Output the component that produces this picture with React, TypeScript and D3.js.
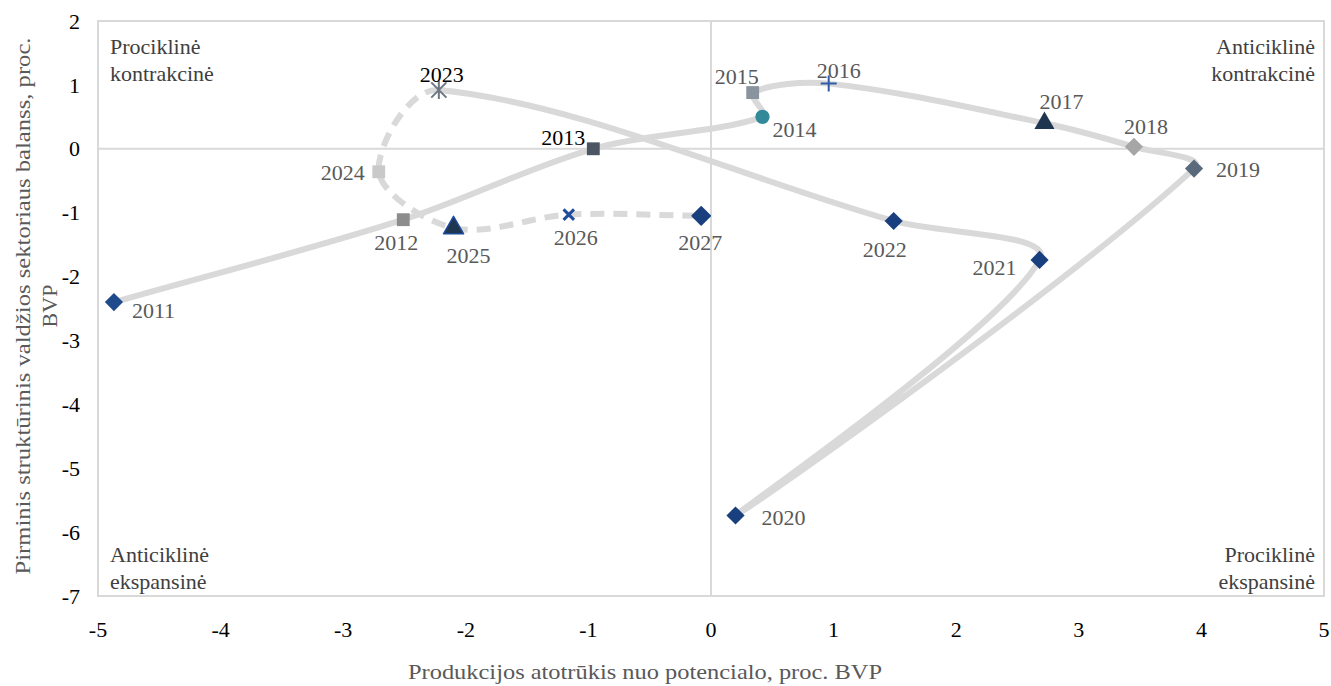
import React from "react";
import * as d3 from "d3";

// ---------- DATA ----------
const years = [2011, 2012, 2013, 2014, 2015, 2016, 2017, 2018, 2019, 2020, 2021, 2022, 2023, 2024, 2025, 2026, 2027];
const outputGap = [-4.87, -2.51, -0.96, 0.42, 0.34, 0.96, 2.72, 3.45, 3.94, 0.2, 2.68, 1.49, -2.22, -2.71, -2.1, -1.16, -0.08];
const structBalance = [-2.4, -1.11, 0.0, 0.5, 0.88, 1.02, 0.4, 0.03, -0.31, -5.74, -1.74, -1.13, 0.92, -0.36, -1.24, -1.03, -1.05];
const firstForecastSegmentYear = 2023; // segments starting at this year are drawn dashed
const xTicks = [-5, -4, -3, -2, -1, 0, 1, 2, 3, 4, 5];
const yTicks = [2, 1, 0, -1, -2, -3, -4, -5, -6, -7];
const xTitle = "Produkcijos atotrūkis nuo potencialo, proc. BVP";
const yTitleLines = ["Pirminis struktūrinis valdžios sektoriaus balanss, proc.", "BVP"];
const quadrantLabels = [
  { lines: ["Prociklinė", "kontrakcinė"], corner: "tl" },
  { lines: ["Anticiklinė", "kontrakcinė"], corner: "tr" },
  { lines: ["Anticiklinė", "ekspansinė"], corner: "bl" },
  { lines: ["Prociklinė", "ekspansinė"], corner: "br" },
];

// ---------- STYLES ----------
const markerStyle: Record<number, { shape: string; fill: string; stroke?: string }> = {
  2011: { shape: "diamond", fill: "#1f4a8c" },
  2012: { shape: "square", fill: "#8c8c8c" },
  2013: { shape: "square", fill: "#4b5563" },
  2014: { shape: "circle", fill: "#31899a" },
  2015: { shape: "square", fill: "#8a949f" },
  2016: { shape: "plus", fill: "#2e5ca8" },
  2017: { shape: "triangle", fill: "#1f3650" },
  2018: { shape: "diamond", fill: "#a6a6a6" },
  2019: { shape: "diamond", fill: "#5a697c" },
  2020: { shape: "diamond", fill: "#1a3f7f" },
  2021: { shape: "diamond", fill: "#1a3f7f" },
  2022: { shape: "diamond", fill: "#1a3f7f" },
  2023: { shape: "asterisk", fill: "#6c7582" },
  2024: { shape: "square", fill: "#c9c9c9" },
  2025: { shape: "triangle", fill: "#1f3650", stroke: "#1d4a9a" },
  2026: { shape: "x", fill: "#1f4e9c" },
  2027: { shape: "diamond", fill: "#1a3f7f", stroke: "#1a3f7f" },
};
const labelPlacement: Record<number, [number, number, string]> = {
  2011: [18, 8, "start"],
  2012: [-7, 23, "middle"],
  2013: [-8, -11, "end"],
  2014: [10, 12, "start"],
  2015: [-16, -16, "middle"],
  2016: [10, -13, "middle"],
  2017: [17, -22, "middle"],
  2018: [12, -21, "middle"],
  2019: [22, 1, "start"],
  2020: [26, 2, "start"],
  2021: [-23, 7, "end"],
  2022: [-9, 28, "middle"],
  2023: [3, -16, "middle"],
  2024: [-14, 1, "end"],
  2025: [15, 27, "middle"],
  2026: [7, 23, "middle"],
  2027: [-1, 26, "middle"],
};
const darkLabels = [2013, 2023];

const W = 1331;
const H = 686;
const FONT = "'Liberation Serif', 'Times New Roman', serif";
const LABEL_SIZE = 22;

const x = d3.scaleLinear().domain([-5, 5]).range([98, 1324]);
const y = d3.scaleLinear().domain([-7, 2]).range([596, 21]);

const diamondType = {
  draw(ctx: any, size: number) {
    const r = Math.sqrt(size / 2);
    ctx.moveTo(0, -r);
    ctx.lineTo(r, 0);
    ctx.lineTo(0, r);
    ctx.lineTo(-r, 0);
    ctx.closePath();
  },
};
const plusType = {
  draw(ctx: any, size: number) {
    const r = Math.sqrt(size) / 2;
    ctx.moveTo(-r, 0);
    ctx.lineTo(r, 0);
    ctx.moveTo(0, -r);
    ctx.lineTo(0, r);
  },
};
const xType = {
  draw(ctx: any, size: number) {
    const r = Math.sqrt(size) / 2;
    ctx.moveTo(-r, -r);
    ctx.lineTo(r, r);
    ctx.moveTo(-r, r);
    ctx.lineTo(r, -r);
  },
};
const asteriskType = {
  draw(ctx: any, size: number) {
    const r = Math.sqrt(size) / 2;
    ctx.moveTo(-r, -r);
    ctx.lineTo(r, r);
    ctx.moveTo(-r, r);
    ctx.lineTo(r, -r);
    ctx.moveTo(0, -r * 1.2);
    ctx.lineTo(0, r * 1.2);
  },
};

function markerPath(shape: string): string {
  switch (shape) {
    case "diamond":
      return d3.symbol(diamondType, 165)() as string;
    case "square":
      return d3.symbol(d3.symbolSquare, 165)() as string;
    case "circle":
      return d3.symbol(d3.symbolCircle, 160)() as string;
    case "triangle":
      return d3.symbol(d3.symbolTriangle, 175)() as string;
    case "plus":
      return d3.symbol(plusType, 256)() as string;
    case "x":
      return d3.symbol(xType, 110)() as string;
    case "asterisk":
      return d3.symbol(asteriskType, 230)() as string;
  }
  return "";
}

const pts: [number, number][] = years.map((yr, i) => [x(outputGap[i]), y(structBalance[i])]);

// Excel-like smoothed line: cubic Bezier segments with tangents (P[i+1]-P[i-1])/6,
// weighted by adjacent segment lengths.
function smoothSegments(p: [number, number][]) {
  const n = p.length;
  const dist = (a: [number, number], b: [number, number]) => Math.hypot(a[0] - b[0], a[1] - b[1]);
  const f = 1 / 6;
  const segs: { p1: [number, number]; c1: [number, number]; c2: [number, number]; p2: [number, number] }[] = [];
  for (let i = 0; i < n - 1; i++) {
    const p0 = p[Math.max(0, i - 1)];
    const p1 = p[i];
    const p2 = p[i + 1];
    const p3 = p[Math.min(n - 1, i + 2)];
    const d01 = dist(p0, p1);
    const d12 = dist(p1, p2);
    const d23 = dist(p2, p3);
    const w1 = d01 + d12 > 0 ? (2 * d12) / (d01 + d12) : 1;
    const w2 = d12 + d23 > 0 ? (2 * d12) / (d12 + d23) : 1;
    const c1: [number, number] = [p1[0] + (p2[0] - p0[0]) * f * w1, p1[1] + (p2[1] - p0[1]) * f * w1];
    const c2: [number, number] = [p2[0] - (p3[0] - p1[0]) * f * w2, p2[1] - (p3[1] - p1[1]) * f * w2];
    segs.push({ p1, c1, c2, p2 });
  }
  return segs;
}

export default function App() {
  const segs = smoothSegments(pts);
  const splitIdx = years.indexOf(firstForecastSegmentYear);
  const solid = d3.path();
  const dashed = d3.path();
  segs.forEach((s, i) => {
    const pth = i < splitIdx ? solid : dashed;
    if (i === 0 || i === splitIdx) pth.moveTo(s.p1[0], s.p1[1]);
    pth.bezierCurveTo(s.c1[0], s.c1[1], s.c2[0], s.c2[1], s.p2[0], s.p2[1]);
  });

  return (
    <svg
      width={W}
      height={H}
      style={{ position: "absolute", left: 0, top: 0, background: "#fff" }}
      fontFamily={FONT}
    >
      <rect x={0} y={0} width={W} height={H} fill="#fff" />
      {/* frame */}
      <rect
        x={x(-5)}
        y={y(2)}
        width={x(5) - x(-5)}
        height={y(-7) - y(2)}
        fill="none"
        stroke="#d9d9d9"
        strokeWidth={2}
      />
      {/* zero lines */}
      <line x1={x(0)} x2={x(0)} y1={y(2)} y2={y(-7)} stroke="#d9d9d9" strokeWidth={2} />
      <line x1={x(-5)} x2={x(5)} y1={y(0)} y2={y(0)} stroke="#d9d9d9" strokeWidth={2} />

      {/* y ticks */}
      {yTicks.map((t) => (
        <text key={"y" + t} x={80} y={y(t)} dy="0.35em" textAnchor="end" fontSize={22} fill="#000">
          {t}
        </text>
      ))}
      {/* x ticks */}
      {xTicks.map((t) => (
        <text key={"x" + t} x={x(t)} y={629} dy="0.35em" textAnchor="middle" fontSize={22} fill="#000">
          {t}
        </text>
      ))}

      {/* axis titles */}
      <text
        x={645}
        y={679}
        textAnchor="middle"
        fontSize={22}
        fill="#595959"
        textLength={474}
        lengthAdjust="spacingAndGlyphs"
      >
        {xTitle}
      </text>
      <g transform="translate(22,306) rotate(-90)">
        <text
          x={0}
          y={0}
          dy="0.35em"
          textAnchor="middle"
          fontSize={22}
          fill="#595959"
          textLength={537}
          lengthAdjust="spacingAndGlyphs"
        >
          {yTitleLines[0]}
        </text>
        <text x={0} y={27} dy="0.35em" textAnchor="middle" fontSize={22} fill="#595959">
          {yTitleLines[1]}
        </text>
      </g>

      {/* quadrant labels */}
      {quadrantLabels.map((q) => {
        const right = q.corner.endsWith("r");
        const top = q.corner.startsWith("t");
        const tx = right ? x(5) - 9 : x(-5) + 12;
        const ty = top ? 46 : 554;
        return (
          <text key={q.corner} x={tx} y={ty} textAnchor={right ? "end" : "start"} fontSize={22} fill="#404040">
            {q.lines.map((l, i) => (
              <tspan key={i} x={tx} y={ty + i * 27} dy="0.35em">
                {l}
              </tspan>
            ))}
          </text>
        );
      })}

      {/* lines */}
      <path d={solid.toString()} fill="none" stroke="#d9d9d9" strokeWidth={6} strokeLinejoin="round" strokeLinecap="round" />
      <path d={dashed.toString()} fill="none" stroke="#d9d9d9" strokeWidth={6} strokeDasharray="14 9" strokeLinecap="butt" />

      {/* markers */}
      {years.map((yr, i) => {
        const [px, py] = pts[i];
        const st = markerStyle[yr];
        const isLine = st.shape === "plus" || st.shape === "x" || st.shape === "asterisk";
        return (
          <path
            key={"m" + yr}
            d={markerPath(st.shape)}
            transform={`translate(${px},${py})`}
            fill={isLine ? "none" : st.fill}
            stroke={isLine ? st.fill : st.stroke || "none"}
            strokeWidth={isLine ? (st.shape === "x" ? 3 : 2) : st.stroke ? 1.5 : 0}
            strokeLinejoin="round"
          />
        );
      })}

      {/* data labels */}
      {years.map((yr, i) => {
        const [px, py] = pts[i];
        const [dx, dy, anchor] = labelPlacement[yr];
        return (
          <text
            key={"l" + yr}
            x={px + dx}
            y={py + dy}
            dy="0.35em"
            textAnchor={anchor as any}
            fontSize={LABEL_SIZE}
            fill={darkLabels.includes(yr) ? "#000" : "#595959"}
          >
            {yr}
          </text>
        );
      })}
    </svg>
  );
}
